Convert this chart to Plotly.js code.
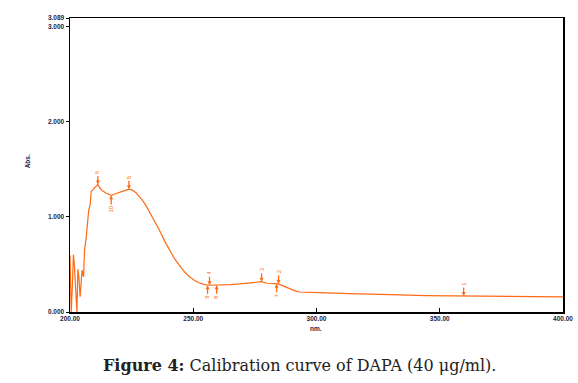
<!DOCTYPE html>
<html>
<head>
<meta charset="utf-8">
<script src="https://cdn.plot.ly/plotly-3.0.1.min.js"></script>
<style>
html,body{margin:0;padding:0;background:#fff;}
#chart{width:578px;height:383px;}
</style>
</head>
<body>
<div id="chart"></div>
<script>
// Spectrum wavelength (nm) and absorbance
var wavelength = [200.0,200.3,200.5,201.0,201.4,201.8,202.3,202.8,203.2,203.6,204.1,204.5,204.9,205.5,205.9,206.6,207.1,207.6,208.2,208.6,209.3,210.0,210.6,211.3,212.2,213.3,214.6,216.0,216.7,218.2,220.0,221.5,222.8,223.9,225.3,226.9,228.2,229.5,231.0,232.3,234.3,236.3,238.3,240.4,242.4,244.4,246.5,248.5,250.5,252.6,254.6,256.6,259.0,262.0,265.0,268.8,272.8,275.5,277.7,280.0,282.0,284.6,286.5,289.1,291.0,293.1,296.0,301.3,313.4,323.6,333.7,344.3,359.7,370.0,382.4,390.0,400.0];
var absorbance = [0.60,0.10,0.00,0.30,0.60,0.48,0.20,0.00,0.45,0.37,0.16,0.30,0.44,0.37,0.65,0.79,0.95,1.07,1.13,1.27,1.28,1.31,1.32,1.34,1.30,1.27,1.25,1.23,1.225,1.24,1.26,1.27,1.28,1.29,1.28,1.25,1.21,1.17,1.11,1.05,0.95,0.86,0.75,0.65,0.56,0.49,0.42,0.37,0.33,0.305,0.288,0.281,0.281,0.284,0.288,0.295,0.305,0.312,0.318,0.302,0.296,0.296,0.275,0.242,0.225,0.210,0.205,0.203,0.193,0.183,0.179,0.173,0.168,0.165,0.161,0.160,0.158];

// Peak / valley picks
var peakLabels = ["1","2","3","4","5","6","7","8","9","10"];
var peakNm     = [359.7,284.6,277.7,256.6,223.9,211.3,283.8,259.5,255.8,216.7];
var peakAbs    = [0.168,0.296,0.318,0.281,1.29,1.34,0.296,0.281,0.281,1.225];
var peakAbove  = [true,true,true,true,true,true,false,false,false,false];

var yTickVals = [0,1,2,3,3.089];
var yTickText = ["0.000","1.000","2.000","3.000","3.089"];
var xTickVals = [200,250,300,350,400];
var xTickText = ["200.00","250.00","300.00","350.00","400.00"];

var orange = '#ff6a14';
var tickFont = {family:'Liberation Sans, Arial, sans-serif', size:6.5, color:'#1c1c44', weight:'bold'};

var annotations = peakLabels.map(function(lbl,i){
  return {
    x: peakNm[i], y: peakAbs[i], xref:'x', yref:'y',
    text: lbl, textangle: -90,
    showarrow: true, arrowhead: 2, arrowsize: 0.6, arrowwidth: 1.3, arrowcolor: orange,
    ax: 0, ay: peakAbove[i] ? -12 : (lbl === "10" ? 14 : 12),
    font: {family:'Liberation Sans, Arial, sans-serif', size:6, color: orange},
    standoff: 0, startstandoff: 0
  };
});
annotations.push({
  xref:'paper', yref:'paper', x:-0.086, y:0.511, xanchor:'center', yanchor:'middle',
  text:'Abs.', textangle:-90, showarrow:false, font: tickFont
});
annotations.push({
  xref:'paper', yref:'paper', x:0.498, y:-0.056, xanchor:'center', yanchor:'middle',
  text:'nm.', showarrow:false, font: tickFont
});
annotations.push({
  xref:'paper', yref:'paper', x:0.465, y:-0.183, xanchor:'center', yanchor:'middle', showarrow:false,
  text:'<b>Figure 4:</b> Calibration curve of DAPA (40 μg/ml).',
  font:{family:'DejaVu Serif, Liberation Serif, serif', size:16, color:'#222'}
});

var trace = {
  x: wavelength, y: absorbance, type:'scatter', mode:'lines',
  line:{color: orange, width:1.2}, hoverinfo:'skip'
};

var layout = {
  width:578, height:383,
  margin:{l:70, r:15, t:18, b:71},
  paper_bgcolor:'#fff', plot_bgcolor:'#fff',
  showlegend:false,
  xaxis:{
    range:[200,400], tickvals:xTickVals, ticktext:xTickText,
    showline:true, linecolor:'#000', linewidth:1.5, mirror:true,
    ticks:'inside', ticklen:4, tickcolor:'#000', tickwidth:1,
    showgrid:false, zeroline:false, tickfont:tickFont, ticklabelstandoff:0
  },
  yaxis:{
    range:[0,3.089], tickvals:yTickVals, ticktext:yTickText,
    showline:true, linecolor:'#000', linewidth:1.5, mirror:true,
    ticks:'outside', ticklen:3, tickcolor:'#000', tickwidth:1,
    showgrid:false, zeroline:false, tickfont:tickFont
  },
  annotations: annotations
};

Plotly.newPlot('chart',[trace],layout,{displayModeBar:false, staticPlot:true});
</script>
</body>
</html>
